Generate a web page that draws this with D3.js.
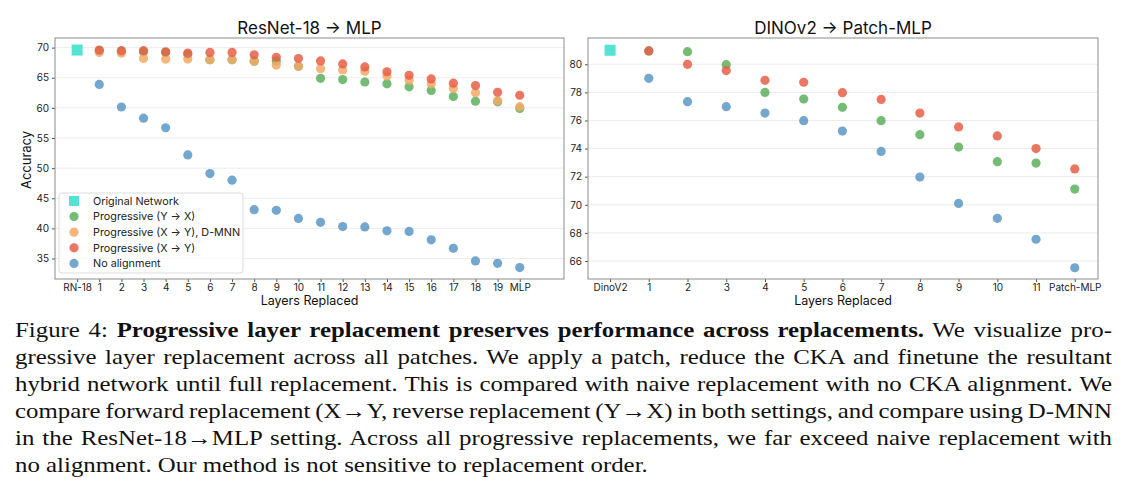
<!DOCTYPE html>
<html>
<head>
<meta charset="utf-8">
<script src="https://cdn.jsdelivr.net/npm/d3@7"></script>
<style>
  body { margin: 0; background: #fff; }
  svg text { font-family: Inter, "DejaVu Sans", sans-serif; }
  .tick text { fill: #222; font-size: 10px; }
  .tick line { stroke: #555; }
</style>
</head>
<body>
<svg id="fig" width="1129" height="490"></svg>
<script>
// ResNet-18 -> MLP panel
const rnLabels = ["RN-18","1","2","3","4","5","6","7","8","9","10","11","12","13","14","15","16","17","18","19","MLP"];
const rnOriginal = 69.6;
const rnYX   = [69.5,69.4,69.3,69.2,68.9,68.0,68.0,67.8,67.8,66.9,64.9,64.7,64.3,64.0,63.5,62.9,61.9,61.1,61.0,59.9];
const rnDmnn = [69.2,69.1,68.2,68.1,68.1,68.0,68.0,67.7,67.1,66.9,66.5,66.3,66.1,65.3,64.6,64.0,63.2,62.5,61.2,60.2];
const rnXY   = [69.6,69.5,69.5,69.3,69.1,69.2,69.2,68.8,68.4,68.2,67.8,67.3,66.8,66.0,65.4,64.8,64.1,63.7,62.6,62.1];
const rnNone = [63.9,60.15,58.3,56.7,52.2,49.1,48.0,43.1,43.0,41.65,41.0,40.3,40.25,39.6,39.5,38.1,36.7,34.6,34.2,33.5];
const rnTicks = [35,40,45,50,55,60,65,70];

// DINOv2 -> Patch-MLP panel
const dnLabels = ["DinoV2","1","2","3","4","5","6","7","8","9","10","11","Patch-MLP"];
const dnOriginal = 81.0;
const dnYX   = [80.95,80.9,79.97,78.0,77.53,76.94,75.99,74.99,74.11,73.07,72.97,71.12];
const dnXY   = [80.95,80.0,79.55,78.86,78.72,77.98,77.5,76.53,75.54,74.9,74.0,72.55];
const dnNone = [79.0,77.34,76.98,76.53,75.99,75.25,73.8,71.98,70.1,69.04,67.55,65.52];
const dnTicks = [66,68,70,72,74,76,78,80];

const legendNames = ["Original Network","Progressive (Y \u2192 X)","Progressive (X \u2192 Y), D-MNN","Progressive (X \u2192 Y)","No alignment"];

const colOrig = "#3fe0d0", colYX = "#5cb05c", colDmnn = "#f4a866", colXY = "#e85f48", colNone = "#5a98c6";

const svg = d3.select("#fig");
const plotTop = 38, plotBottom = 279;

function panel(opts){
  const g = svg.append("g");
  const x = d3.scaleLinear().domain(opts.xDomain).range([opts.left, opts.right]);
  const y = d3.scaleLinear().domain(opts.yDomain).range([plotBottom, plotTop]);

  // grid
  g.selectAll(".grid").data(opts.ticks).enter().append("line")
    .attr("x1", opts.left).attr("x2", opts.right)
    .attr("y1", d => y(d)).attr("y2", d => y(d))
    .attr("stroke", "#ececec").attr("stroke-width", 1);

  const xa = g.append("g").attr("transform", "translate(0," + plotBottom + ")")
    .call(d3.axisBottom(x).tickValues(d3.range(opts.labels.length)).tickFormat(i => opts.labels[i]).tickSize(3).tickPadding(2));
  xa.select(".domain").remove();
  const ya = g.append("g").attr("transform", "translate(" + opts.left + ",0)")
    .call(d3.axisLeft(y).tickValues(opts.ticks).tickSize(3).tickPadding(3));
  ya.select(".domain").remove();

  g.append("rect").attr("x", opts.left).attr("y", plotTop)
    .attr("width", opts.right - opts.left).attr("height", plotBottom - plotTop)
    .attr("fill", "none").attr("stroke", "#8c8c8c").attr("stroke-width", 1);

  // original network square
  g.append("rect")
    .attr("x", x(0) - 5.5).attr("y", y(opts.original) - 5.5)
    .attr("width", 11).attr("height", 11)
    .attr("fill", colOrig).attr("opacity", 0.9);

  opts.series.forEach(s => {
    g.selectAll(null).data(s.values).enter().append("circle")
      .attr("cx", (d, i) => x(i + 1))
      .attr("cy", d => y(d))
      .attr("r", 4.6)
      .attr("fill", s.color)
      .attr("opacity", 0.85);
  });

  svg.append("text").attr("x", (opts.left + opts.right) / 2).attr("y", 34)
    .attr("text-anchor", "middle").style("font-size", "17px").attr("fill", "#111")
    .text(opts.title);
  svg.append("text").attr("x", (opts.left + opts.right) / 2).attr("y", 305)
    .attr("text-anchor", "middle").style("font-size", "12.5px").attr("fill", "#111")
    .text("Layers Replaced");
  return {x, y};
}

panel({
  left: 55, right: 564, xDomain: [-1, 22], yDomain: [31.6, 71.6],
  labels: rnLabels, ticks: rnTicks, original: rnOriginal,
  title: "ResNet-18 \u2192 MLP",
  series: [
    {values: rnYX, color: colYX},
    {values: rnDmnn, color: colDmnn},
    {values: rnXY, color: colXY},
    {values: rnNone, color: colNone}
  ]
});

panel({
  left: 588, right: 1098, xDomain: [-0.57, 12.6], yDomain: [64.72, 81.87],
  labels: dnLabels, ticks: dnTicks, original: dnOriginal,
  title: "DINOv2 \u2192 Patch-MLP",
  series: [
    {values: dnYX, color: colYX},
    {values: dnXY, color: colXY},
    {values: dnNone, color: colNone}
  ]
});

svg.append("text")
  .attr("transform", "translate(31,160) rotate(-90)")
  .attr("text-anchor", "middle").style("font-size", "13px").attr("fill", "#111")
  .text("Accuracy");

// legend
const lg = svg.append("g");
lg.append("rect").attr("x", 59).attr("y", 193).attr("width", 184).attr("height", 80)
  .attr("rx", 3).attr("fill", "#fff").attr("fill-opacity", 0.8)
  .attr("stroke", "#dcdcdc");
const legendCols = [colOrig, colYX, colDmnn, colXY, colNone];
legendNames.forEach((name, i) => {
  const cy = 201 + i * 15.6;
  if (i === 0) {
    lg.append("rect").attr("x", 69).attr("y", cy - 5).attr("width", 10).attr("height", 10)
      .attr("fill", colOrig).attr("opacity", 0.9);
  } else {
    lg.append("circle").attr("cx", 74).attr("cy", cy).attr("r", 4.6)
      .attr("fill", legendCols[i]).attr("opacity", 0.85);
  }
  lg.append("text").attr("x", 93).attr("y", cy + 3.7)
    .style("font-size", "10.8px").attr("fill", "#222").text(name);
});

// caption (the reference text is stretched sideways, so the block is scaled in x)
const captionLines = [
  [["Figure 4: ", false], ["Progressive layer replacement preserves performance across replacements.", true], [" We visualize pro-", false]],
  [["gressive layer replacement across all patches. We apply a patch, reduce the CKA and finetune the resultant", false]],
  [["hybrid network until full replacement. This is compared with naive replacement with no CKA alignment. We", false]],
  [["compare forward replacement (X\u2192Y, reverse replacement (Y\u2192X) in both settings, and compare using D-MNN", false]],
  [["in the ResNet-18\u2192MLP setting. Across all progressive replacements, we far exceed naive replacement with", false]],
  [["no alignment. Our method is not sensitive to replacement order.", false]]
];
const capLeft = 15, capRight = 1112, lastLineEnd = 648;
const cap = svg.append("g");
const capTexts = captionLines.map((parts, i) => {
  const t = cap.append("text").attr("x", 0).attr("y", 337 + i * 27)
    .style("font-family", "'Liberation Serif', 'Times New Roman', serif")
    .style("font-size", "21px").attr("fill", "#111");
  parts.forEach(p => {
    t.append("tspan").attr("font-weight", p[1] ? "bold" : "normal").text(p[0]);
  });
  return t;
});
const sx = (lastLineEnd - capLeft) / capTexts[capTexts.length - 1].node().getComputedTextLength();
cap.attr("transform", "translate(" + capLeft + ",0) scale(" + sx + ",1)");
capTexts.forEach((t, i) => {
  if (i === capTexts.length - 1) return;
  const full = captionLines[i].map(p => p[0]).join("");
  const spaces = (full.match(/ /g) || []).length;
  const w = t.node().getComputedTextLength();
  t.style("word-spacing", (((capRight - capLeft) / sx - w) / spaces) + "px");
});
</script>
</body>
</html>
